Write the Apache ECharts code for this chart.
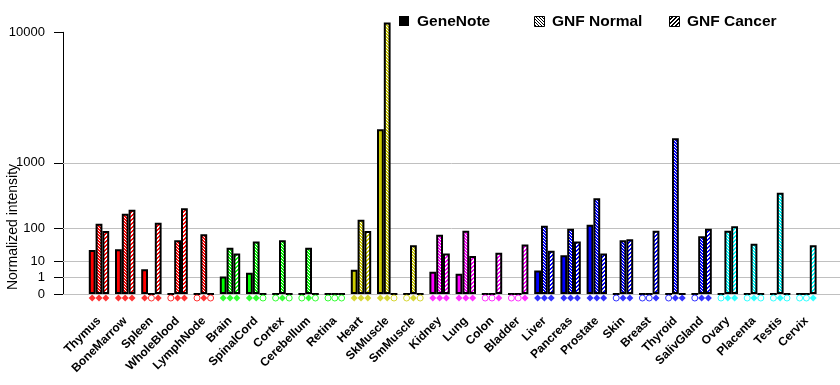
<!DOCTYPE html>
<html><head><meta charset="utf-8">
<script src="https://cdn.jsdelivr.net/npm/echarts@6/dist/echarts.min.js"></script>
<style>html,body{margin:0;padding:0;background:#fff}#c{width:840px;height:385px}</style>
</head><body><div id="c"></div>
<script>
const tissues = ['Thymus','BoneMarrow','Spleen','WholeBlood','LymphNode','Brain','SpinalCord','Cortex','Cerebellum','Retina','Heart','SkMuscle','SmMuscle','Kidney','Lung','Colon','Bladder','Liver','Pancreas','Prostate','Skin','Breast','Thyroid','SalivGland','Ovary','Placenta','Testis','Cervix'];
const geneNote  = [26,28,3.8,0,0,1.2,2.3,0,0,0,3.6,2140,0,2.7,2.0,0,0,3.2,17,119,0,0,0,0,0,0,0,0];
const gnfNormal = [125,195,0,51,73,31,47,51,31,0,150,11300,37,71,88,0,0,114,98,350,51,0,1770,65,88,41,423,0];
const gnfCancer = [87,229,131,242,0,20,0,0,0,0,87,0,0,20,16,21,39,25,47,20,54,88,0,98,110,0,0,37];
const callGeneNote = [1,1,1,0,0,1,1,0,0,0,1,1,0,1,1,0,0,1,1,1,0,0,0,0,0,0,0,0];
const callNormal   = [1,1,0,1,1,1,1,1,1,0,1,1,1,1,1,0,0,1,1,1,1,0,1,1,1,1,1,0];
const callCancer   = [1,1,1,1,0,1,0,0,0,0,1,0,0,1,1,1,1,1,1,1,1,1,1,1,1,0,0,1];
const yTicks = [0,1,10,100,1000,10000];
const seriesNames = ['GeneNote','GNF Normal','GNF Cancer'];

// styles
const groupPalette = ['#ff0000','#00ff00','#cccc00','#ff00ff','#0000ff','#00ffff'];
const groupSizes = [5,5,3,4,7,4];
const colorOf = [];
groupSizes.forEach((n,g)=>{for(let k=0;k<n;k++) colorOf.push(groupPalette[g]);});

const P = 0.3;
const tf = v => Math.pow(v, P);
const inv = t => Math.round(Math.pow(t, 1/P));

function makePattern(bg, fg, kind){
  const s = kind === 'n' ? 3 : 4;
  const c = document.createElement('canvas'); c.width = s; c.height = s;
  const ctx = c.getContext('2d');
  ctx.fillStyle = bg; ctx.fillRect(0,0,s,s);
  ctx.fillStyle = fg;
  for (let y=0;y<s;y++) for (let x=0;x<s;x++){
    const on = kind === 'n' ? ((x - y + s) % s === 0) : ((x + y) % s < 2);
    if (on) ctx.fillRect(x,y,1,1);
  }
  return {image: c, repeat: 'repeat'};
}
const patCache = {};
function pat(color, kind){ const k = color+kind; if(!patCache[k]) patCache[k] = makePattern(color,'#ffffff',kind); return patCache[k]; }

const BW = 6.8;
function barSeries(name, vals, kind){
  return {
    name, type:'bar', xAxisIndex:1, yAxisIndex:1, barWidth: BW, barGap:'0%', clip:false, z:3,
    itemStyle:{borderColor:'#000', borderWidth:2},
    data: vals.map((v,i)=>({value: tf(v), itemStyle:{color: kind ? pat(colorOf[i], kind) : colorOf[i]}}))
  };
}
function callSeries(calls, dx){
  return {
    type:'scatter', xAxisIndex:1, yAxisIndex:1, clip:false, silent:true, z:5,
    symbolOffset:[dx, 4],
    data: calls.map((c,i)=>({
      value:[tissues[i], 0],
      symbol: c ? 'diamond' : 'circle',
      symbolSize: c ? 7 : 6,
      itemStyle: c ? {color: colorOf[i]} : {color:'#fff', borderColor: colorOf[i], borderWidth:1}
    }))
  };
}

const legendFont = 'bold 15.5px "Liberation Sans", Arial, sans-serif';
const chart = echarts.init(document.getElementById('c'), null, {renderer:'canvas'});
chart.setOption({
  backgroundColor:'#fff',
  animation:false,
  grid:[
    {left:63, right:0, top:32.3, bottom:91, outerBoundsMode:'none'},
    {left:85.9, right:20.5, top:32.3, bottom:91, outerBoundsMode:'none'}
  ],
  xAxis:[
    {gridIndex:0, type:'value', show:false, min:0, max:1},
    {gridIndex:1, type:'category', data:tissues, boundaryGap:true,
     axisLine:{show:false}, axisTick:{show:false},
     axisLabel:{interval:0, rotate:45, margin:25, color:'#000', fontSize:12, fontWeight:'bold', fontFamily:'"Liberation Sans", Arial, sans-serif'}}
  ],
  yAxis:[
    {gridIndex:0, type:'value', min:0, max:tf(10000),
     axisLine:{show:true, lineStyle:{color:'#000', width:1}},
     axisTick:{show:true, customValues:yTicks.map(tf), length:9, lineStyle:{color:'#000'}},
     axisLabel:{customValues:yTicks.map(tf), formatter:v=>String(inv(v)), margin:18, color:'#000', fontSize:13, fontFamily:'"Liberation Sans", Arial, sans-serif'},
     splitLine:{show:false}},
    {gridIndex:1, type:'value', min:0, max:tf(10000), show:false}
  ],
  graphic:[
    {type:'text', x:13.5, y:227, rotation:Math.PI/2, style:{text:'Normalized intensity', fill:'#000', font:'14px "Liberation Sans", Arial, sans-serif', textAlign:'center', textVerticalAlign:'middle'}},
    {type:'rect', shape:{x:399, y:16, width:10, height:10}, style:{fill:'#000'}},
    {type:'text', x:417, y:21.5, style:{text:seriesNames[0], fill:'#000', font:legendFont, textVerticalAlign:'middle'}},
    {type:'rect', shape:{x:534.5, y:16.5, width:10, height:10}, style:{fill:makePattern('#ffffff','#000000','n'), stroke:'#000', lineWidth:1}},
    {type:'text', x:552, y:21.5, style:{text:seriesNames[1], fill:'#000', font:legendFont, textVerticalAlign:'middle'}},
    {type:'rect', shape:{x:669.5, y:16.5, width:10, height:10}, style:{fill:makePattern('#ffffff','#000000','c'), stroke:'#000', lineWidth:1}},
    {type:'text', x:687, y:21.5, style:{text:seriesNames[2], fill:'#000', font:legendFont, textVerticalAlign:'middle'}}
  ],
  series:[
    {type:'line', xAxisIndex:0, yAxisIndex:0, data:[[0,0]], showSymbol:false, silent:true, z:1,
     markLine:{silent:true, z:1, symbol:['none','none'], label:{show:false},
       lineStyle:{color:'#c0c0c0', width:1, type:'solid'},
       emphasis:{disabled:true},
       data: yTicks.map(v=>({yAxis: tf(v)}))}},
    barSeries(seriesNames[0], geneNote, null),
    barSeries(seriesNames[1], gnfNormal, 'n'),
    barSeries(seriesNames[2], gnfCancer, 'c'),
    callSeries(callGeneNote, -BW),
    callSeries(callNormal, 0),
    callSeries(callCancer, BW)
  ]
});
</script></body></html>
